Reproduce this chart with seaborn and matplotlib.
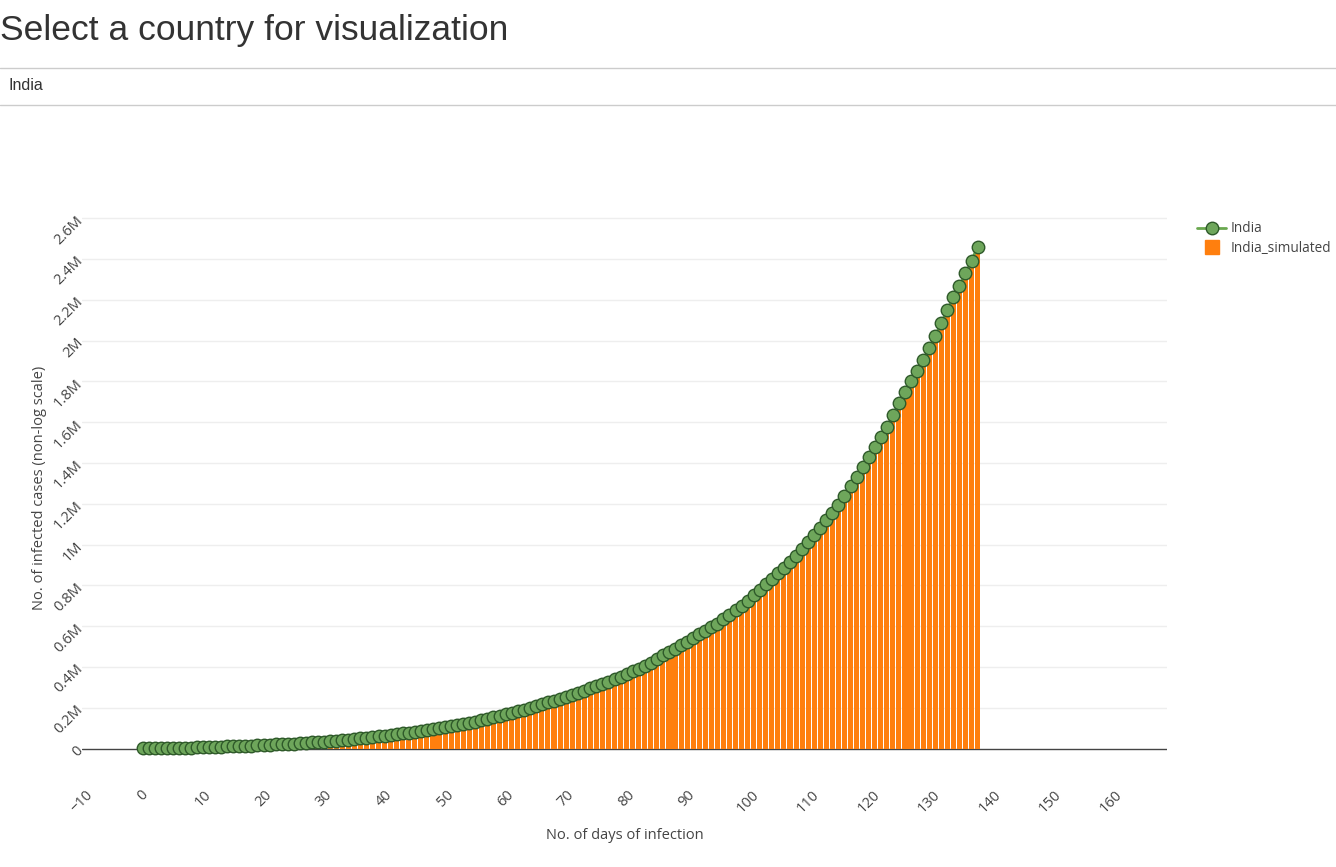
import matplotlib
matplotlib.use("Agg")
import matplotlib.pyplot as plt
import seaborn as sns
import pandas as pd
from matplotlib.lines import Line2D
from matplotlib.ticker import FuncFormatter

# Data (values in thousands of cases)
days = list(range(0, 139))

india = [
    1, 1.3, 1.6, 2, 2.5, 3, 3.5, 4.2, 4.8, 5.5,
    6.5, 7.5, 8.4, 9.2, 10.5, 11.5, 12.4, 13.4, 14.4, 15.7,
    17, 18.6, 20, 21.4, 23, 24.5, 26.5, 28, 29.5, 31.3,
    33, 35, 37.3, 39.9, 42.5, 46.5, 49.4, 52.9, 56.3, 59.7,
    62, 66, 70, 74.3, 78, 82, 87, 90.9, 95.6, 100,
    105, 110, 114, 119, 125, 131, 138, 145, 152, 160,
    168, 176, 184, 191, 199, 208, 216, 226, 235, 244,
    254, 264, 274, 284, 295, 306, 317, 328, 340, 352,
    365, 378, 392, 406, 420, 438, 456, 474, 490, 507,
    524, 543, 560, 578, 594, 612, 634, 656, 678, 699,
    725, 752, 778, 805, 831, 858, 886, 915, 946, 976,
    1010, 1045, 1082, 1120, 1155, 1195, 1240, 1287, 1332, 1381,
    1430, 1479, 1528, 1577, 1635, 1695, 1748, 1803, 1852, 1904,
    1963, 2022, 2084, 2150, 2212, 2267, 2329, 2391, 2460,
]

india_simulated = [
    0, 0, 0, 0, 0, 0, 0, 0, 0, 0,
    0, 0, 0, 0, 0, 0, 0, 0, 0, 0,
    0, 0, 0, 0, 0, 0, 0, 0, 0.5, 1.5,
    3, 4, 5.5, 7, 9, 12, 15, 18.5, 22, 25.5,
    28, 32, 36, 40, 44, 48, 53, 57, 62, 67,
    72, 77, 81, 86, 92, 98, 105, 112, 119, 127,
    135, 143, 151, 158, 166, 175, 183, 193, 202, 212,
    222, 232, 242, 252, 263, 274, 285, 297, 309, 322,
    335, 348, 362, 376, 391, 410, 426, 444, 460, 477,
    494, 513, 530, 548, 565, 583, 605, 627, 649, 670,
    698, 724, 750, 776, 802, 829, 857, 886, 917, 947,
    981, 1016, 1053, 1091, 1127, 1167, 1212, 1259, 1305, 1354,
    1403, 1452, 1501, 1551, 1609, 1669, 1722, 1777, 1827, 1879,
    1938, 1997, 2059, 2125, 2187, 2242, 2304, 2366, 2435,
]

df = pd.DataFrame({
    "day": days,
    "India": [v * 1000 for v in india],
    "India_simulated": [v * 1000 for v in india_simulated],
})

sns.set_theme(style="white")
plt.rcParams["font.family"] = ["Open Sans", "DejaVu Sans"]

W, H = 1336, 867
fig = plt.figure(figsize=(W / 100, H / 100), dpi=100)
fig.patch.set_facecolor("white")

# page header (title + dropdown)
fig.text(0.0, 1 - 40 / H, "Select a country for visualization", fontsize=25.5,
         color="#333333", family=["Liberation Sans", "DejaVu Sans"],
         ha="left", va="baseline")
for yy in (68, 105):
    fig.add_artist(Line2D([0, 1], [1 - yy / H, 1 - yy / H], color="#cccccc", lw=1))
fig.text(9 / W, 1 - 86 / H, "India", fontsize=11.5, color="#333333",
         family=["Liberation Sans", "DejaVu Sans"], ha="left", va="center")

left, right, top, bottom = 82, 1167, 200, 775
ax = fig.add_axes([left / W, 1 - bottom / H, (right - left) / W, (bottom - top) / H])

bar_color = "#ff7f0e"
green = "#6aa84f"
sns.barplot(data=df, x="day", y="India_simulated", native_scale=True, width=0.84,
            color=bar_color, saturation=1, edgecolor="none", ax=ax, zorder=2)
sns.lineplot(data=df, x="day", y="India", color=green, lw=2, marker="o",
             markersize=9, markerfacecolor="#6ea65b", markeredgecolor="#2f5a2a",
             markeredgewidth=1, ax=ax, zorder=3)

y_top = (748.5 - top) / 204 * 1e6
y_bot = (748.5 - bottom) / 204 * 1e6
ax.set_ylim(y_bot, y_top)
ax.set_xlim(-9.7, 169.3)

yticks = [i * 200000 for i in range(14)]
ax.set_yticks(yticks)
ax.set_xticks(list(range(-10, 161, 10)))


def fmt_y(v, pos):
    if v == 0:
        return "0"
    s = f"{v / 1e6:.1f}".rstrip("0").rstrip(".")
    return s + "M"


ax.yaxis.set_major_formatter(FuncFormatter(fmt_y))
ax.xaxis.set_major_formatter(FuncFormatter(lambda v, p: f"{int(v)}".replace("-", "\u2212")))

for s in ax.spines.values():
    s.set_visible(False)
ax.grid(False)
for t in yticks[1:]:
    ax.axhline(t, color="#eeeeee", lw=1, zorder=0)
ax.axhline(0, color="#444444", lw=1, zorder=1)

ax.tick_params(axis="both", length=0, labelsize=10.5, labelcolor="#444444")
ax.tick_params(axis="y", pad=1)
ax.tick_params(axis="x", pad=9)
for lab in ax.get_yticklabels():
    lab.set_rotation(45)
    lab.set_rotation_mode("anchor")
    lab.set_ha("right")
    lab.set_va("center")
for lab in ax.get_xticklabels():
    lab.set_rotation(45)
    lab.set_ha("center")
    lab.set_va("top")

ax.set_xlabel("No. of days of infection", fontsize=10.5, color="#444444", labelpad=9)
ax.set_ylabel("No. of infected cases (non-log scale)", fontsize=10.5, color="#444444",
              labelpad=3)

handles = [
    Line2D([], [], color=green, lw=2, marker="o", markersize=9,
           markerfacecolor="#6ea65b", markeredgecolor="#2f5a2a", markeredgewidth=1),
    Line2D([], [], color=bar_color, lw=0, marker="s", markersize=9.5),
]
fig.legend(handles, ["India", "India_simulated"], loc="upper left",
           bbox_to_anchor=(1192 / W, 1 - 216 / H), frameon=False, fontsize=9.8,
           labelcolor="#444444", handlelength=2.1, handletextpad=0.35,
           labelspacing=0.3, borderaxespad=0)

fig.savefig("out.png", dpi=100, facecolor="white")
